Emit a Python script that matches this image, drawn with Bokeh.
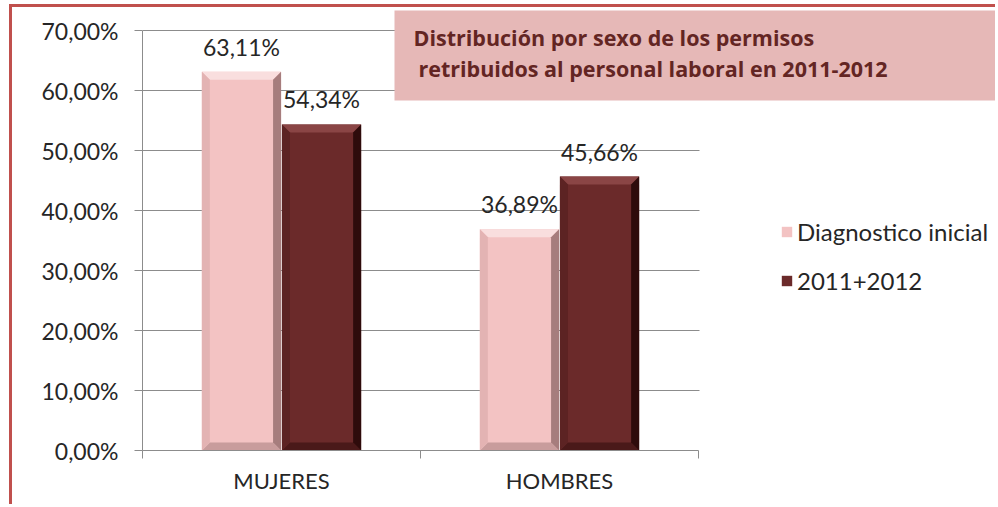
from bokeh.plotting import figure
from bokeh.models import (ColumnDataSource, Range1d, FixedTicker, Label, LabelSet,
                          BoxAnnotation, Legend, LegendItem)
from bokeh.core.properties import value
from bokeh.transform import dodge
from bokeh.embed import file_html
from bokeh.resources import INLINE

categories = ["MUJERES", "HOMBRES"]
series_names = ["Diagnostico inicial", "2011+2012"]
diagnostico = [63.11, 36.89]
periodo = [54.34, 45.66]
y_ticks = [0, 10, 20, 30, 40, 50, 60, 70]
y_tick_labels = ["0,00%", "10,00%", "20,00%", "30,00%", "40,00%", "50,00%", "60,00%", "70,00%"]
title_lines = ["Distribución por sexo de los  permisos", " retribuidos al personal laboral en 2011-2012"]

def fmt(v):
    return ("%.2f" % v).replace(".", ",") + "%"

xpos = [i + 0.5 for i in range(len(categories))]
src = ColumnDataSource(dict(
    x=xpos,
    a=diagnostico, b=periodo,
    a_lab=[fmt(v) for v in diagnostico],
    b_lab=[fmt(v) for v in periodo],
))

FONT = "Lato"
TXT = "#262626"
GRID = "#8c8c8c"
W = 0.285
OFF = 0.144

PX_X = 278.0  # px per category
PX_Y = 6.0    # px per value unit
FW, FH = 856, 443
BX = 8 / PX_X   # bevel width (category units)
BY = 8 / PX_Y   # bevel depth (value units)

p = figure(width=986, height=500, x_range=Range1d(0, FW / PX_X), y_range=Range1d(0, FH / PX_Y),
           output_backend="svg", toolbar_location=None,
           min_border_left=130, min_border_right=0, min_border_top=0, min_border_bottom=57)
p.margin = (4, 0, 0, 9)
p.styles = {"border-top": "3px solid #c0504d", "border-left": "3px solid #c0504d"}
p.outline_line_color = None
p.background_fill_color = "white"
p.border_fill_color = "white"


def bevel_bar(col, vals, off, face, top_c, right_c, bottom_c, left_c):
    r = p.vbar(x=dodge("x", off), top=col, width=W,
               source=src, fill_color=face, line_color=None)
    xs, ys, cs = [], [], []
    for xc, v in zip(xpos, vals):
        x0, x1 = xc + off - W / 2, xc + off + W / 2
        # top
        xs.append([x0, x1, x1 - BX, x0 + BX]); ys.append([v, v, v - BY, v - BY]); cs.append(top_c)
        # bottom
        xs.append([x0, x1, x1 - BX, x0 + BX]); ys.append([0, 0, BY, BY]); cs.append(bottom_c)
        # left
        xs.append([x0, x0, x0 + BX, x0 + BX]); ys.append([v, 0, BY, v - BY]); cs.append(left_c)
        # right
        xs.append([x1, x1, x1 - BX, x1 - BX]); ys.append([v, 0, BY, v - BY]); cs.append(right_c)
    p.patches(xs="xs", ys="ys", fill_color="c", line_color=None,
              source=ColumnDataSource(dict(xs=xs, ys=ys, c=cs)))
    return r

ra = bevel_bar("a", diagnostico, -OFF, "#f3c3c3", "#f9dede", "#a67d7d", "#c89c9c", "#e3b3b3")
rb = bevel_bar("b", periodo, OFF, "#6b2a2a", "#8a4545", "#2e0b0b", "#4a1919", "#5c2323")

# grid / axes
p.xgrid.grid_line_color = None
p.ygrid.grid_line_color = GRID
p.ygrid.grid_line_width = 1
p.ygrid.ticker = FixedTicker(ticks=y_ticks)
p.yaxis.ticker = FixedTicker(ticks=y_ticks)
p.yaxis.major_label_overrides = {t: l for t, l in zip(y_ticks, y_tick_labels)}
p.yaxis.bounds = (0, 70)
p.xaxis.ticker = FixedTicker(ticks=xpos, minor_ticks=list(range(len(categories) + 1)))
p.xaxis.major_label_overrides = {x: c for x, c in zip(xpos, categories)}
p.xaxis.bounds = (0, len(categories))
for ax in (p.xaxis, p.yaxis):
    ax.axis_line_color = GRID
    ax.major_tick_line_color = GRID
    ax.major_label_text_font = FONT
    ax.major_label_text_color = TXT
p.yaxis.minor_tick_line_color = None
p.yaxis.major_tick_out = 8
p.yaxis.major_tick_in = 0
p.yaxis.major_label_standoff = 16
p.yaxis.major_label_text_font_size = "23px"
p.xaxis.major_tick_line_color = None
p.xaxis.minor_tick_line_color = GRID
p.xaxis.minor_tick_out = 8
p.xaxis.minor_tick_in = 0
p.xaxis.major_label_standoff = 8
p.xaxis.major_label_text_font_size = "22px"

# hide grid beyond the category area (frame-relative screen units)
p.add_layout(BoxAnnotation(left=2 * PX_X + 1, right=FW + 20, top=FH + 10, bottom=0,
                           left_units="screen", right_units="screen",
                           top_units="screen", bottom_units="screen",
                           fill_color="white", fill_alpha=1, line_color=None))

# data labels
for col, lab, off in (("a", "a_lab", -OFF), ("b", "b_lab", OFF)):
    p.add_layout(LabelSet(x=dodge("x", off), y=col, text=lab, source=src,
                          text_align="center", text_baseline="bottom", y_offset=11,
                          text_font=value(FONT), text_font_size=value("23px"),
                          text_color=TXT))

# title box
p.add_layout(BoxAnnotation(left=252, right=FW + 20, top=440, bottom=350,
                           left_units="screen", right_units="screen",
                           top_units="screen", bottom_units="screen",
                           fill_color="#e6b8b7", fill_alpha=1, line_color=None))
for txt, x, y in zip(title_lines, [271, 276], [413, 382]):
    p.add_layout(Label(x=x, y=y, x_units="screen", y_units="screen", text=txt,
                       text_font="Open Sans", text_font_style="bold", text_font_size="21.5px",
                       text_color="#632523", text_baseline="middle", text_align="left"))

legend = Legend(items=[LegendItem(label=series_names[0], renderers=[ra]),
                       LegendItem(label=series_names[1], renderers=[rb])],
                location=(638, 155), orientation="vertical",
                glyph_width=13, glyph_height=13, label_height=26, spacing=20,
                label_standoff=4, padding=0, margin=0,
                border_line_color=None, background_fill_alpha=0,
                label_text_font=FONT, label_text_font_size="24px", label_text_color=TXT)
p.add_layout(legend)

open("out.html", "w").write(file_html(p, INLINE))
